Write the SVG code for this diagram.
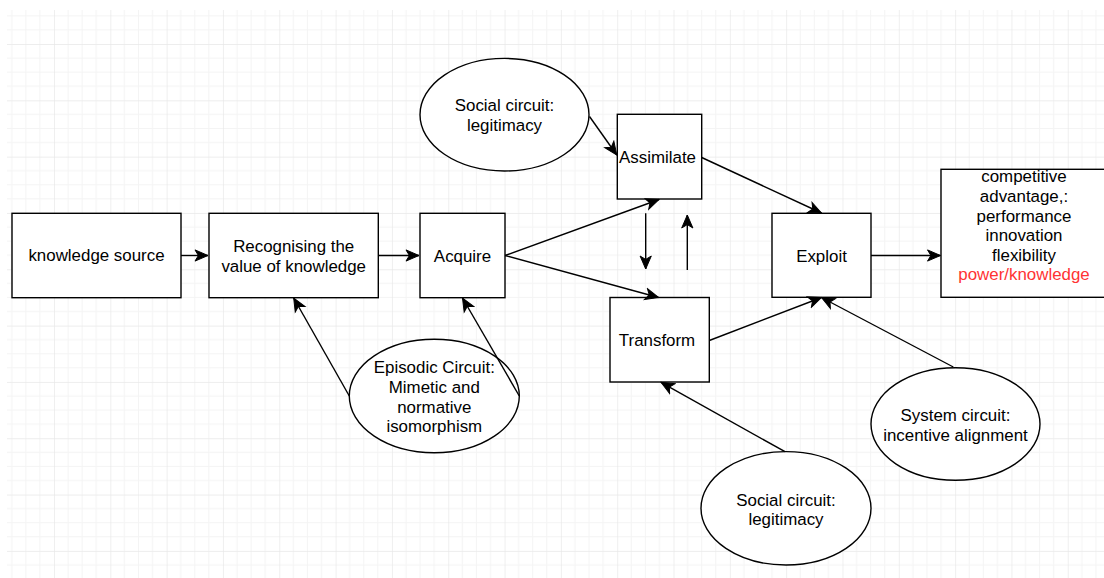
<svg xmlns="http://www.w3.org/2000/svg" width="1104" height="578" viewBox="0 0 1104 578">
<style>
.box{fill:#fff;stroke:#000;stroke-width:1.4}
.t{font-family:"Liberation Sans",Arial,sans-serif;font-size:16.9px;fill:#000;text-anchor:middle;dominant-baseline:central}
.red{fill:#ff3333}
.c{fill:none;stroke:#000;stroke-width:1.4}
</style>
<defs>
<pattern id="grid" x="54" y="44" width="56.32" height="56.32" patternUnits="userSpaceOnUse">
<path d="M14.08 0V56.32M28.16 0V56.32M42.24 0V56.32M0 14.08H56.32M0 28.16H56.32M0 42.24H56.32" stroke="#f4f4f4" stroke-width="1"/>
<path d="M0 0V56.32M0 0H56.32" stroke="#e8e8e8" stroke-width="1.4"/>
</pattern>
<marker id="arr" viewBox="-14 -7 15 14" refX="0" refY="0" markerWidth="15" markerHeight="14" markerUnits="userSpaceOnUse" orient="auto">
<path d="M0 0L-13 -5.6L-9.6 0L-13 5.6Z" fill="#000" stroke="#000" stroke-width="1"/>
</marker>
</defs>
<rect x="0" y="0" width="1104" height="578" fill="#fff"/>
<rect x="7" y="10" width="1097" height="568" fill="url(#grid)"/>

<g id="knowledge-source">
<rect class="box" x="12" y="213.3" width="169" height="84.4"/>
<text class="t" x="96.5" y="255.5">knowledge source</text>
</g>
<g id="recognising">
<rect class="box" x="209" y="213.3" width="169.3" height="84.4"/>
<text class="t" x="293.7" y="246.5">Recognising the</text>
<text class="t" x="293.7" y="266.5">value of knowledge</text>
</g>
<g id="acquire">
<rect class="box" x="420" y="213.3" width="85" height="84.4"/>
<text class="t" x="462.5" y="256">Acquire</text>
</g>
<g id="assimilate">
<rect class="box" x="617.3" y="114.3" width="84.4" height="84.7"/>
<text class="t" x="657.5" y="157.5">Assimilate</text>
</g>
<g id="transform">
<rect class="box" x="610" y="297.5" width="99.3" height="84.5"/>
<text class="t" x="657" y="340.5">Transform</text>
</g>
<g id="exploit">
<rect class="box" x="772" y="213.3" width="99" height="84"/>
<text class="t" x="821.5" y="256.5">Exploit</text>
</g>
<g id="competitive">
<rect class="box" x="941" y="169.3" width="170" height="128"/>
<text class="t" x="1024" y="176">competitive</text>
<text class="t" x="1024" y="196.5">advantage,:</text>
<text class="t" x="1024" y="216">performance</text>
<text class="t" x="1024" y="235.7">innovation</text>
<text class="t" x="1024" y="255">flexibility</text>
<text class="t red" x="1024" y="274.7">power/knowledge</text>
</g>
<g id="social-circuit-top">
<ellipse class="box" cx="504.5" cy="114.7" rx="84.5" ry="56.3"/>
<text class="t" x="504.5" y="105">Social circuit:</text>
<text class="t" x="504.5" y="125">legitimacy</text>
</g>
<g id="episodic-circuit">
<ellipse class="box" cx="434.3" cy="396" rx="85" ry="56.7"/>
<text class="t" x="434.3" y="367.7">Episodic Circuit:</text>
<text class="t" x="434.3" y="387.3">Mimetic and</text>
<text class="t" x="434.3" y="407.3">normative</text>
<text class="t" x="434.3" y="426.7">isomorphism</text>
</g>
<g id="social-circuit-bottom">
<ellipse class="box" cx="786" cy="508.3" rx="85" ry="56.7"/>
<text class="t" x="786" y="500">Social circuit:</text>
<text class="t" x="786" y="519.3">legitimacy</text>
</g>
<g id="system-circuit">
<ellipse class="box" cx="955.5" cy="424" rx="84.5" ry="56.3"/>
<text class="t" x="955.5" y="415.7">System circuit:</text>
<text class="t" x="955.5" y="435">incentive alignment</text>
</g>

<g id="connectors">
<path class="c" d="M181 255.5H208" marker-end="url(#arr)"/>
<path class="c" d="M378.3 255.5H419" marker-end="url(#arr)"/>
<path class="c" d="M505 255.5L659 199.5" marker-end="url(#arr)"/>
<path class="c" d="M505 255.5L658.5 297.5" marker-end="url(#arr)"/>
<path class="c" d="M645.7 213.3V269" marker-end="url(#arr)"/>
<path class="c" d="M687.3 270V215" marker-end="url(#arr)"/>
<path class="c" d="M589.5 116.5L616.8 155" marker-end="url(#arr)"/>
<path class="c" d="M701.7 157.5L821.5 213" marker-end="url(#arr)"/>
<path class="c" d="M709.3 340.5L821.5 297.5" marker-end="url(#arr)"/>
<path class="c" d="M953.3 367L821.5 297.5" marker-end="url(#arr)"/>
<path class="c" d="M871 255.5H940.5" marker-end="url(#arr)"/>
<path class="c" d="M785 451.7L661 382.3" marker-end="url(#arr)"/>
<path class="c" d="M349.3 396L293.7 298" marker-end="url(#arr)"/>
<path class="c" d="M519.3 396L462.5 298" marker-end="url(#arr)"/>
</g>
</svg>
